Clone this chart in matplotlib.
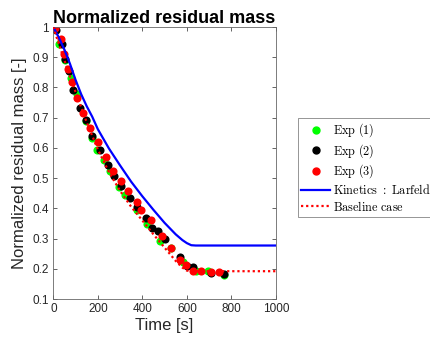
import matplotlib
matplotlib.use("Agg")
import matplotlib.pyplot as plt
from matplotlib.lines import Line2D

plt.rcParams['font.family'] = ['Liberation Sans', 'DejaVu Sans']
plt.rcParams['mathtext.fontset'] = 'cm'

# Experimental runs: time [s] and normalized residual mass [-]
exp1_t = [3, 27, 54, 78, 105, 146, 172, 197, 227, 254, 294, 321, 374, 419, 478, 530, 583, 643, 695, 767]
exp1_m = [0.992, 0.945, 0.892, 0.832, 0.779, 0.689, 0.634, 0.592, 0.561, 0.523, 0.472, 0.445,
          0.396, 0.347, 0.293, 0.268, 0.222, 0.194, 0.192, 0.181]

exp2_t = [10, 37, 52, 70, 90, 120, 149, 176, 209, 244, 272, 306, 344, 378, 416, 445, 471, 501,
          568, 600, 628, 710, 765]
exp2_m = [0.99, 0.943, 0.893, 0.855, 0.793, 0.733, 0.691, 0.641, 0.594, 0.545, 0.508, 0.473,
          0.435, 0.404, 0.368, 0.336, 0.325, 0.297, 0.238, 0.21, 0.205, 0.185, 0.183]

exp3_t = [7, 33, 49, 67, 82, 108, 135, 164, 202, 235, 269, 302, 336, 374, 396, 438, 490, 528,
          571, 598, 628, 665, 710, 744]
exp3_m = [0.998, 0.96, 0.91, 0.86, 0.818, 0.766, 0.715, 0.667, 0.619, 0.570, 0.525, 0.49,
          0.459, 0.420, 0.396, 0.360, 0.31, 0.268, 0.23, 0.211, 0.194, 0.192, 0.188, 0.191]

# Model: kinetics after Larfeld
kin_t = [0, 25, 50, 75, 100, 125, 150, 175, 200, 250, 300, 350, 400, 450, 500, 550, 580, 600,
         620, 640, 700, 800, 900, 1000]
kin_m = [1.0, 0.965, 0.925, 0.878, 0.825, 0.778, 0.738, 0.703, 0.662, 0.598, 0.542, 0.488,
         0.44, 0.395, 0.352, 0.314, 0.295, 0.285, 0.278, 0.277, 0.277, 0.277, 0.277, 0.277]

# Model: baseline case
base_t = [0, 25, 50, 75, 100, 150, 200, 250, 300, 350, 400, 450, 500, 550, 580, 600, 620,
          700, 800, 900, 1000]
base_m = [1.0, 0.943, 0.89, 0.836, 0.785, 0.685, 0.595, 0.52, 0.458, 0.405, 0.36, 0.314,
          0.27, 0.226, 0.204, 0.194, 0.192, 0.192, 0.192, 0.192, 0.192]

xticks = [0, 200, 400, 600, 800, 1000]
yticks = [0.1, 0.2, 0.3, 0.4, 0.5, 0.6, 0.7, 0.8, 0.9, 1]

axc = '#262626'

fig = plt.figure(figsize=(4.31, 3.42), dpi=100)
ax = fig.add_axes([0.1237, 0.1257, 0.5163, 0.7953])

ms = 34
ax.scatter(exp1_t, exp1_m, s=ms, color=(0, 1, 0), linewidths=0, zorder=2)
ax.scatter(exp2_t, exp2_m, s=ms, color='black', linewidths=0, zorder=2)
ax.scatter(exp3_t, exp3_m, s=ms, color=(1, 0, 0), linewidths=0, zorder=2)
ax.plot(kin_t, kin_m, color=(0, 0, 1), lw=1.6, zorder=3)
ax.plot(base_t, base_m, color=(1, 0, 0), lw=1.6, linestyle=(0, (1, 1.3)), zorder=3)

ax.set_xlim(0, 1000)
ax.set_ylim(0.1, 1)
ax.set_xticks(xticks)
ax.set_xticklabels([str(v) for v in xticks])
ax.set_yticks(yticks)
ax.set_yticklabels([('%g' % v) for v in yticks])
ax.tick_params(direction='in', length=3, width=0.5, colors=axc, labelsize=8.5,
               top=True, right=True, pad=3)
for s in ax.spines.values():
    s.set_color('#666666')
    s.set_linewidth(0.6)

ax.set_title('Normalized residual mass', fontsize=13, fontweight='bold', color='black', pad=3)
ax.set_xlabel('Time [s]', fontsize=12, color=axc, labelpad=2)
ax.set_ylabel('Normalized residual mass [-]', fontsize=12, color=axc, labelpad=4)

handles = [
    Line2D([], [], color=(0, 1, 0), marker='o', linestyle='none', markersize=5),
    Line2D([], [], color='black', marker='o', linestyle='none', markersize=5),
    Line2D([], [], color=(1, 0, 0), marker='o', linestyle='none', markersize=5),
    Line2D([], [], color=(0, 0, 1), lw=1.6),
    Line2D([], [], color=(1, 0, 0), lw=1.6, linestyle=(0, (1, 1.3))),
]
labels = [r'$\mathrm{Exp\ (1)}$', r'$\mathrm{Exp\ (2)}$', r'$\mathrm{Exp\ (3)}$',
          r'$\mathrm{Kinetics\ :\ Larfeld}$', r'$\mathrm{Baseline\ case}$']
leg = fig.legend(handles, labels, loc='upper left', bbox_to_anchor=(0.691, 0.655),
                 fontsize=8.8, frameon=True, fancybox=False, edgecolor='#666666',
                 handlelength=2.3, handletextpad=0.3, labelspacing=0.22,
                 borderpad=0.3, borderaxespad=0)
leg.get_frame().set_linewidth(0.6)

fig.savefig('out.png', dpi=100)
